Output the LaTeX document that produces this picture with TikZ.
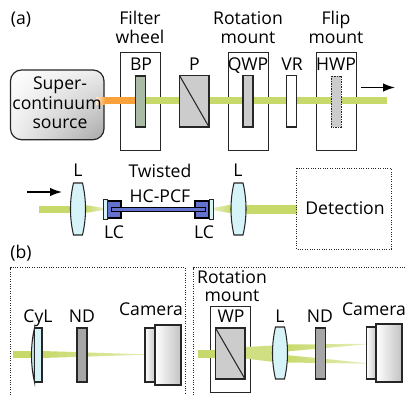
\documentclass[tikz,border=0pt]{standalone}
\usepackage{fontspec}
\usetikzlibrary{shadings,arrows.meta}
\setmainfont{Open Sans}
\definecolor{beamgreen}{HTML}{C8D96B}
\definecolor{beamorange}{HTML}{F9A23B}
\definecolor{filtergreen}{HTML}{A9BBA5}
\definecolor{plategray}{HTML}{CCCCCC}
\definecolor{ndgray}{HTML}{A6A6A6}
\definecolor{lensblue}{HTML}{D6F3F7}
\definecolor{blockblue}{HTML}{6272CE}
\definecolor{edgedark}{HTML}{262626}
\tikzset{
  lbl/.style={anchor=base,inner sep=0pt,font=\fontsize{17.6}{17.6}\selectfont,text=black},
  mountbox/.style={draw=edgedark,line width=1pt},
  plate/.style={draw=edgedark,line width=1.05pt},
  dotbox/.style={draw=edgedark,line width=1pt,dash pattern=on 1pt off 1.4pt},
  beam/.style={fill=beamgreen,draw=none},
  beamfade/.style={left color=beamgreen,right color=beamgreen!45,draw=none},
  lensbody/.style={draw=edgedark,line width=1.05pt,fill=lensblue},
  blockbody/.style={draw=black,line width=1.8pt,fill=blockblue},
  collar/.style={draw=edgedark,line width=0.8pt,fill=lensblue},
  bodyshade/.style={draw=edgedark,line width=1.05pt,left color=white,right color=black!24},
}
\newcommand{\lensat}[3]{% centre x, top y, bottom y
  \draw[lensbody] (#1-4.5,#2) .. controls (#1-8.5,#2+17) and (#1-8.5,#3-17) .. (#1-4.5,#3)
    -- (#1+4.5,#3) .. controls (#1+8.5,#3-17) and (#1+8.5,#2+17) .. (#1+4.5,#2) -- cycle;
}
\begin{document}
\begin{tikzpicture}[x=1pt,y=-1pt,>={Latex[length=12pt,width=8.5pt]}]
\useasboundingbox (0,0) rectangle (406,395);

% Part (a), top row
\shade[rounded corners=11pt,upper left=white,lower left=black!6,upper right=black!8,lower right=black!34] (10.5,70) rectangle (104,139.7);
\draw[edgedark,line width=1.2pt,rounded corners=11pt] (10.5,70) rectangle (104,139.7);
\foreach \x in {120.5,228,316}
  \draw[mountbox] (\x,52.5) rectangle (\x+40,150.5);
\shade[left color=beamorange!20,right color=beamorange] (96,97.5) rectangle (105,104.5);
\fill[beamorange] (105,97.5) rectangle (135.5,104.5);
\fill[beam] (145,97.5) rectangle (387,104.5);
\draw[plate,fill=filtergreen] (135.5,76) rectangle (145.5,127);
\draw[plate,fill=plategray] (179.5,75.5) rectangle (209,127);
\draw[plate] (179.5,75.5) -- (209,127);
\draw[plate,fill=plategray] (243,75.5) rectangle (253,127);
\draw[plate,fill=white] (286.5,75.5) rectangle (296.5,127);
\draw[plate,fill=plategray,line width=0.9pt,dash pattern=on 1.5pt off 1pt] (331,76) rectangle (341,127);
\coordinate (outa) at (361,87.5);
\coordinate (outb) at (395,87.5);
\draw[->,line width=1.4pt] (outa) -- (outb);

% Part (a), fibre row
\fill[beam] (39,205.5) rectangle (72,212.5);
\shade[beamfade] (85,205) -- (104,208) -- (104,210) -- (85,213) -- cycle;
\shade[left color=beamgreen!45,right color=beamgreen] (213,208) -- (232,204.5) -- (232,213.5) -- (213,210) -- cycle;
\fill[beam] (245,204.5) rectangle (297,214);
\lensat{78}{183}{235}
\lensat{238.5}{183}{235}
\draw[blockbody] (107,201) rectangle (121,218);
\draw[blockbody] (195,201) rectangle (209,218);
\draw[black,line width=0.9pt,fill=blockblue] (111,207.5) rectangle (205,211.5);
\draw[collar] (103,199) rectangle (107,219);
\draw[collar] (209,199) rectangle (213,219);
\coordinate (ina) at (27,192);
\coordinate (inb) at (62,192);
\draw[->,line width=1.4pt] (ina) -- (inb);
\draw[dotbox] (296.5,168.5) rectangle (391.5,249);

% Part (b), left panel
\draw[dotbox] (10.5,395) -- (10.5,267.5) -- (185,267.5) -- (185,395);
\fill[beam] (13,350.5) rectangle (35,358);
\shade[left color=beamgreen,right color=beamgreen!50] (42,351) -- (145,354.3) -- (145,354.8) -- (42,358) -- cycle;
\draw[lensbody] (34.5,328) .. controls (30.5,345) and (30.5,365) .. (34.5,382) -- cycle;
\draw[plate,fill=lensblue] (34.5,328) rectangle (42,382);
\draw[plate,fill=ndgray] (77,328) rectangle (87,382);
\draw[bodyshade] (145,328) rectangle (156,382);
\draw[bodyshade] (155,325) rectangle (181,385);

% Part (b), right panel
\draw[dotbox] (193.5,395) -- (193.5,267.5) -- (406,267.5);
\draw[mountbox] (210.5,306) rectangle (250.5,392);
\fill[beam] (198,350) rectangle (216,358);
\fill[beamgreen!85] (245,347) -- (274,345.5) -- (274,353) -- (245,358.5) -- cycle;
\fill[beamgreen!85] (245,347) -- (274,353.5) -- (274,362) -- (245,358.5) -- cycle;
\shade[beamfade] (286,344.5) -- (366,343.8) -- (366,344.4) -- (286,351.5) -- cycle;
\shade[beamfade] (286,355) -- (366,363) -- (366,363.6) -- (286,362.5) -- cycle;
\draw[plate,fill=plategray] (215.5,328) rectangle (245,379);
\draw[plate] (215.5,328) -- (245,379);
\lensat{280}{327}{379}
\draw[plate,fill=ndgray] (315.5,328) rectangle (325.5,379);
\draw[bodyshade] (366.5,327) rectangle (377,379);
\draw[bodyshade] (376,324) rectangle (402,382);

% Labels
\foreach \x/\y/\name [count=\i] in {
  21/25/(a),140/25/Filter,140/44/wheel,248/25/Rotation,248/44/mount,336/25/Flip,336/44/mount,
  141/70.5/BP,194.5/70.5/P,248/70.5/QWP,292/70.5/VR,336/70.5/HWP,
  60/90/Super-,57/110/continuum,60/128.7/source,
  78/176.5/L,238/176.5/L,160/178/Twisted,160/202/HC-PCF,114/238/LC,204/238/LC,345/214.3/Detection,
  21/258/(b),38/322/CyL,82/322/ND,151/315.7/Camera,
  232/283/Rotation,232/301/mount,231/322.7/WP,280/322/L,320/322/ND,374/315.7/Camera}
  \node[lbl] (lbl\i) at (\x,\y) {\name};
\end{tikzpicture}
\end{document}
